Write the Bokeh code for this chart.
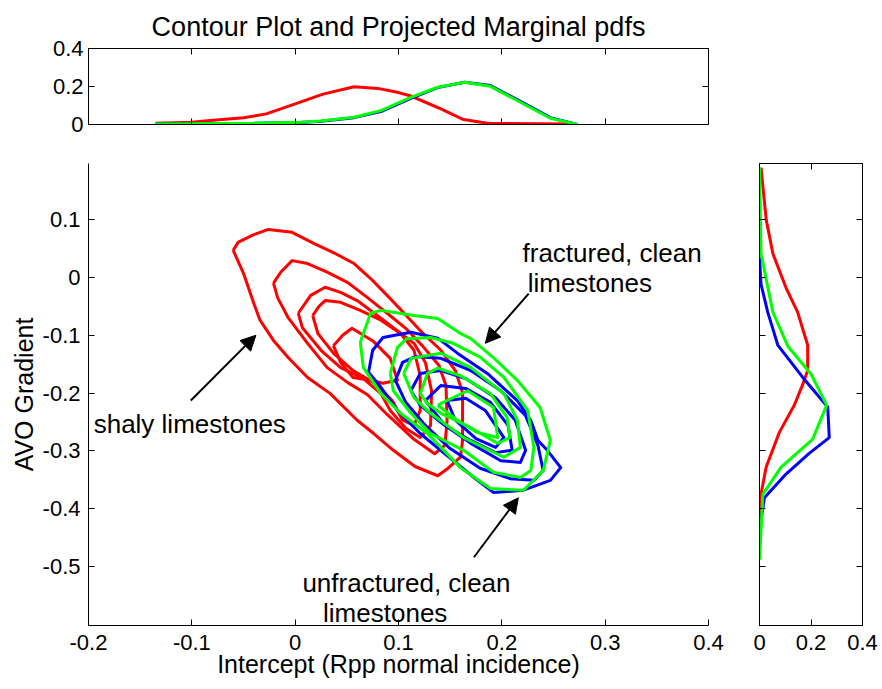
from bokeh.plotting import figure
from bokeh.layouts import column, row
from bokeh.models import (Range1d, FixedTicker, LinearAxis, NumeralTickFormatter,
                          Arrow, NormalHead, Label)
from bokeh.embed import file_html
from bokeh.resources import INLINE

FONT = "Liberation Sans"
RED, BLUE, GREEN = "#ff0000", "#0000ff", "#00ff00"

# ---------------- data ----------------
x_ticks = [-0.2, -0.1, 0, 0.1, 0.2, 0.3, 0.4]
y_ticks = [-0.5, -0.4, -0.3, -0.2, -0.1, 0, 0.1]
pdf_ticks = [0, 0.2, 0.4]

# shaly limestones contours (red)
red1_x = [-0.060, -0.055, -0.040, -0.026, -0.003, 0.018, 0.037, 0.057, 0.073, 0.089, 0.105, 0.121, 0.141, 0.155, 0.162, 0.162, 0.160, 0.148, 0.138, 0.116, 0.095, 0.076, 0.060, 0.034, 0.012, -0.007, -0.021, -0.034, -0.040, -0.050, -0.060]
red1_y = [0.047, 0.061, 0.074, 0.083, 0.078, 0.059, 0.043, 0.024, -0.002, -0.031, -0.061, -0.092, -0.126, -0.161, -0.199, -0.282, -0.311, -0.330, -0.343, -0.327, -0.299, -0.270, -0.247, -0.201, -0.173, -0.138, -0.109, -0.074, -0.045, 0.007, 0.047]
red2_x = [-0.021, -0.014, -0.003, 0.012, 0.031, 0.051, 0.070, 0.089, 0.107, 0.123, 0.139, 0.146, 0.147, 0.145, 0.135, 0.115, 0.089, 0.070, 0.051, 0.031, 0.012, -0.007, -0.017, -0.021]
red2_y = [-0.010, 0.009, 0.029, 0.024, 0.009, -0.009, -0.035, -0.062, -0.088, -0.118, -0.152, -0.187, -0.247, -0.290, -0.305, -0.280, -0.237, -0.203, -0.182, -0.156, -0.114, -0.069, -0.035, -0.010]
red3_x = [0.003, 0.015, 0.029, 0.044, 0.060, 0.076, 0.095, 0.115, 0.126, 0.132, 0.131, 0.121, 0.107, 0.092, 0.083, 0.066, 0.044, 0.025, 0.007, 0.003]
red3_y = [-0.062, -0.031, -0.017, -0.026, -0.040, -0.061, -0.087, -0.114, -0.147, -0.196, -0.256, -0.277, -0.261, -0.230, -0.201, -0.175, -0.156, -0.126, -0.087, -0.062]
red4_x = [0.017, 0.023, 0.029, 0.044, 0.063, 0.083, 0.102, 0.115, 0.121, 0.121, 0.115, 0.104, 0.094, 0.076, 0.056, 0.037, 0.022, 0.017]
red4_y = [-0.066, -0.050, -0.040, -0.043, -0.057, -0.074, -0.097, -0.126, -0.170, -0.230, -0.256, -0.247, -0.213, -0.182, -0.161, -0.131, -0.097, -0.066]
red5_x = [0.037, 0.046, 0.055, 0.076, 0.092, 0.099, 0.085, 0.073, 0.056, 0.044, 0.037]
red5_y = [-0.118, -0.100, -0.088, -0.111, -0.140, -0.178, -0.183, -0.178, -0.173, -0.147, -0.118]

# unfractured clean limestones contours (blue)
blue1_x = [0.071, 0.075, 0.085, 0.112, 0.138, 0.157, 0.186, 0.215, 0.228, 0.235, 0.244, 0.257, 0.247, 0.221, 0.192, 0.173, 0.147, 0.121, 0.099, 0.083, 0.071]
blue1_y = [-0.164, -0.126, -0.104, -0.095, -0.105, -0.131, -0.166, -0.213, -0.247, -0.282, -0.299, -0.329, -0.351, -0.368, -0.372, -0.346, -0.308, -0.270, -0.230, -0.190, -0.164]
blue2_x = [0.097, 0.104, 0.116, 0.141, 0.170, 0.199, 0.223, 0.235, 0.240, 0.231, 0.208, 0.179, 0.150, 0.126, 0.107, 0.097]
blue2_y = [-0.178, -0.147, -0.137, -0.140, -0.161, -0.196, -0.239, -0.291, -0.334, -0.351, -0.348, -0.330, -0.296, -0.256, -0.216, -0.178]
blue3_x = [0.112, 0.121, 0.141, 0.165, 0.194, 0.213, 0.223, 0.218, 0.199, 0.170, 0.141, 0.121, 0.112]
blue3_y = [-0.196, -0.166, -0.161, -0.175, -0.208, -0.247, -0.299, -0.320, -0.317, -0.287, -0.251, -0.221, -0.196]
blue4_x = [0.126, 0.141, 0.165, 0.189, 0.206, 0.210, 0.194, 0.170, 0.145, 0.126]
blue4_y = [-0.213, -0.187, -0.192, -0.216, -0.256, -0.299, -0.303, -0.282, -0.256, -0.213]
blue5_x = [0.147, 0.165, 0.184, 0.202, 0.194, 0.175, 0.155, 0.147]
blue5_y = [-0.213, -0.209, -0.230, -0.277, -0.294, -0.279, -0.247, -0.213]

# fractured clean limestones contours (green)
green1_x = [0.063, 0.073, 0.083, 0.115, 0.138, 0.160, 0.170, 0.192, 0.215, 0.237, 0.247, 0.240, 0.221, 0.189, 0.160, 0.141, 0.128, 0.102, 0.083, 0.066, 0.063]
green1_y = [-0.112, -0.062, -0.057, -0.066, -0.071, -0.097, -0.106, -0.139, -0.178, -0.225, -0.282, -0.334, -0.368, -0.365, -0.329, -0.294, -0.270, -0.235, -0.201, -0.156, -0.112]
green2_x = [0.092, 0.099, 0.108, 0.131, 0.153, 0.179, 0.202, 0.225, 0.231, 0.228, 0.218, 0.192, 0.163, 0.131, 0.112, 0.095, 0.092]
green2_y = [-0.166, -0.121, -0.106, -0.104, -0.114, -0.138, -0.173, -0.230, -0.294, -0.334, -0.346, -0.337, -0.299, -0.270, -0.235, -0.196, -0.166]
green3_x = [0.105, 0.112, 0.141, 0.170, 0.202, 0.215, 0.218, 0.202, 0.163, 0.131, 0.115, 0.105]
green3_y = [-0.166, -0.140, -0.131, -0.156, -0.201, -0.247, -0.294, -0.311, -0.277, -0.235, -0.208, -0.166]
green4_x = [0.121, 0.128, 0.138, 0.160, 0.189, 0.205, 0.208, 0.196, 0.170, 0.141, 0.128, 0.121]
green4_y = [-0.201, -0.166, -0.157, -0.170, -0.201, -0.242, -0.277, -0.287, -0.260, -0.235, -0.218, -0.201]
green5_x = [0.138, 0.141, 0.167, 0.192, 0.196, 0.176, 0.157, 0.138]
green5_y = [-0.221, -0.218, -0.196, -0.225, -0.277, -0.268, -0.247, -0.221]

# projected marginal pdf of the intercept (top panel)
top_x_red = [-0.135, -0.100, -0.085, -0.050, -0.028, -0.002, 0.027, 0.057, 0.080, 0.100, 0.112, 0.141, 0.163, 0.186, 0.265]
top_red = [0.007, 0.012, 0.020, 0.035, 0.056, 0.105, 0.160, 0.199, 0.190, 0.168, 0.150, 0.082, 0.026, 0.007, 0.002]
top_x_clean = [-0.135, -0.040, 0.005, 0.025, 0.057, 0.083, 0.112, 0.138, 0.164, 0.189, 0.218, 0.247, 0.273]
top_blue = [0.002, 0.006, 0.011, 0.017, 0.036, 0.068, 0.138, 0.194, 0.222, 0.205, 0.122, 0.036, 0.000]
top_green = [0.002, 0.007, 0.012, 0.018, 0.038, 0.073, 0.143, 0.196, 0.222, 0.201, 0.117, 0.033, 0.000]

# projected marginal pdf of the gradient (right panel)
right_red_y = [0.190, 0.100, 0.041, -0.018, -0.060, -0.117, -0.161, -0.185, -0.221, -0.268, -0.328, -0.381, -0.434]
right_red = [0.006, 0.026, 0.052, 0.103, 0.148, 0.187, 0.187, 0.168, 0.135, 0.077, 0.026, 0.003, 0.000]
right_blue_y = [0.035, -0.012, -0.060, -0.117, -0.173, -0.224, -0.277, -0.304, -0.340, -0.381, -0.429]
right_blue = [0.000, 0.006, 0.032, 0.071, 0.168, 0.265, 0.271, 0.194, 0.103, 0.019, 0.003]
right_green_y = [0.190, 0.041, -0.060, -0.119, -0.167, -0.221, -0.280, -0.328, -0.375, -0.488]
right_green = [0.000, 0.006, 0.052, 0.110, 0.200, 0.261, 0.206, 0.084, 0.013, 0.000]

# ---------------- helpers ----------------
def add_axis(fig, side, ticks, labels=True, size="22px", standoff=6):
    ax = LinearAxis(ticker=FixedTicker(ticks=ticks),
                    formatter=NumeralTickFormatter(format="0.[0]"))
    ax.major_tick_in = 6
    ax.major_tick_out = 0
    ax.minor_tick_line_color = None
    ax.axis_line_color = "black"
    ax.major_tick_line_color = "black"
    ax.major_label_text_font = FONT
    if labels:
        ax.major_label_text_font_size = size
        ax.major_label_text_color = "black"
        ax.major_label_standoff = standoff
    else:
        ax.major_label_text_font_size = "0px"
        ax.major_label_text_color = None
        ax.major_label_standoff = 0
    fig.add_layout(ax, side)
    return ax

common = dict(output_backend="svg", toolbar_location=None,
              x_axis_type=None, y_axis_type=None)

x_range = Range1d(-0.2, 0.4)
y_range = Range1d(-0.602, 0.197)

# ---------------- top marginal ----------------
top = figure(width=728, height=136, x_range=x_range, y_range=Range1d(0, 0.4),
             min_border_left=88, min_border_right=20, min_border_top=48,
             min_border_bottom=12, outline_line_color="black", **common)
top.title.text = "Contour Plot and Projected Marginal pdfs"
top.title.align = "center"
top.title.text_font = FONT
top.title.text_font_size = "27px"
top.title.text_font_style = "normal"
top.title.text_color = "black"
top.title.standoff = 14
add_axis(top, "left", pdf_ticks, labels=True, standoff=5)
add_axis(top, "below", x_ticks, labels=False)
add_axis(top, "above", x_ticks, labels=False)
add_axis(top, "right", pdf_ticks, labels=False)
top.line(top_x_red, top_red, line_color=RED, line_width=3)
top.line(top_x_clean, top_blue, line_color=BLUE, line_width=3)
top.line(top_x_clean, top_green, line_color=GREEN, line_width=3)

# ---------------- main contour panel ----------------
main = figure(width=728, height=551, x_range=x_range, y_range=y_range,
              min_border_left=88, min_border_right=20, min_border_top=27,
              min_border_bottom=62, outline_line_color=None, **common)
xa = add_axis(main, "below", x_ticks, labels=True, standoff=9)
xa.axis_label = "Intercept (Rpp normal incidence)"
xa.axis_label_text_font = FONT
xa.axis_label_text_font_size = "25px"
xa.axis_label_text_font_style = "normal"
xa.axis_label_text_color = "black"
xa.axis_label_standoff = -3
ya = add_axis(main, "left", y_ticks, labels=True, standoff=8)
ya.axis_label = "AVO Gradient"
ya.axis_label_text_font = FONT
ya.axis_label_text_font_size = "25px"
ya.axis_label_text_font_style = "normal"
ya.axis_label_text_color = "black"
ya.axis_label_standoff = 2

main.multi_line([red1_x, red2_x, red3_x, red4_x, red5_x],
                [red1_y, red2_y, red3_y, red4_y, red5_y],
                line_color=RED, line_width=3, line_join="round")
main.multi_line([blue1_x, blue2_x, blue3_x, blue4_x, blue5_x],
                [blue1_y, blue2_y, blue3_y, blue4_y, blue5_y],
                line_color=BLUE, line_width=3, line_join="round")
main.multi_line([green1_x, green2_x, green3_x, green4_x, green5_x],
                [green1_y, green2_y, green3_y, green4_y, green5_y],
                line_color=GREEN, line_width=3, line_join="round")

def arrow(x0, y0, x1, y1):
    main.add_layout(Arrow(x_start=x0, y_start=y0, x_end=x1, y_end=y1,
                          line_width=2, line_color="black",
                          end=NormalHead(size=15, fill_color="black",
                                         line_color="black")))

def label(x, y, text):
    main.add_layout(Label(x=x, y=y, text=text, text_font=FONT,
                          text_font_size="26px", text_color="black",
                          text_baseline="alphabetic"))

arrow(-0.101, -0.213, -0.038, -0.100)
arrow(0.226, -0.028, 0.184, -0.114)
arrow(0.173, -0.484, 0.216, -0.381)
label(-0.195, -0.253, "shaly limestones")
label(0.220, 0.042, "fractured, clean")
label(0.225, -0.010, "limestones")
label(0.007, -0.529, "unfractured, clean")
label(0.027, -0.581, "limestones")

# ---------------- right marginal ----------------
right = figure(width=152, height=551, x_range=Range1d(0, 0.4), y_range=y_range,
               min_border_left=31, min_border_right=18, min_border_top=27,
               min_border_bottom=62, outline_line_color="black", **common)
add_axis(right, "below", pdf_ticks, labels=True, standoff=9)
add_axis(right, "above", pdf_ticks, labels=False)
add_axis(right, "left", y_ticks, labels=False)
add_axis(right, "right", y_ticks, labels=False)
right.line(right_red, right_red_y, line_color=RED, line_width=3)
right.line(right_blue, right_blue_y, line_color=BLUE, line_width=3)
right.line(right_green, right_green_y, line_color=GREEN, line_width=3)

layout = column(top, row(main, right))
open("out.html", "w").write(file_html(layout, INLINE))
